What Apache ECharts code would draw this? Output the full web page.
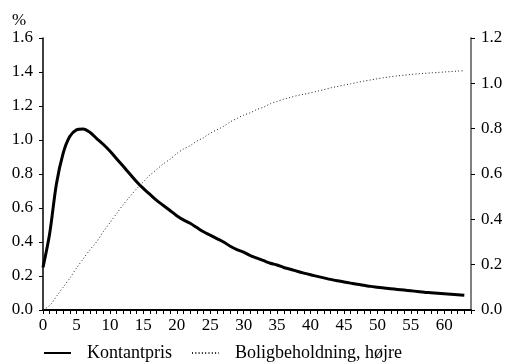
<!DOCTYPE html>
<html>
<head>
<meta charset="utf-8">
<script src="https://cdn.jsdelivr.net/npm/echarts@6/dist/echarts.min.js"></script>
<style>
  html, body { margin: 0; padding: 0; background: #fff; }
  #chart { width: 508px; height: 362px; }
</style>
</head>
<body>
<div id="chart"></div>
<script>
// kvartaler efter stød
var quarters = [];
for (var q = 0; q <= 63; q++) quarters.push(q);

// Kontantpris, venstre akse (%)
var kontantpris = [
  0.25, 0.45, 0.74, 0.92, 1.02, 1.06, 1.065, 1.046, 1.01, 0.975,
  0.935, 0.89, 0.845, 0.80, 0.755, 0.715, 0.68, 0.645, 0.615, 0.585,
  0.555, 0.53, 0.51, 0.485, 0.46, 0.44, 0.42, 0.40, 0.375, 0.355,
  0.34, 0.32, 0.305, 0.29, 0.275, 0.265, 0.25, 0.24, 0.228, 0.217,
  0.207, 0.198, 0.189, 0.18, 0.172, 0.165, 0.158, 0.151, 0.145, 0.139,
  0.134, 0.129, 0.125, 0.121, 0.117, 0.113, 0.109, 0.105, 0.102, 0.099,
  0.096, 0.093, 0.09, 0.087
];

// Boligbeholdning, højre akse (%)
var boligbeholdning = [
  0.0, 0.02, 0.06, 0.10, 0.14, 0.185, 0.225, 0.265, 0.30, 0.345,
  0.385, 0.425, 0.465, 0.50, 0.535, 0.565, 0.595, 0.62, 0.645, 0.665,
  0.69, 0.71, 0.725, 0.745, 0.76, 0.78, 0.795, 0.81, 0.83, 0.845,
  0.86, 0.87, 0.885, 0.895, 0.91, 0.92, 0.93, 0.938, 0.946, 0.952,
  0.958, 0.965, 0.972, 0.98, 0.986, 0.992, 0.998, 1.004, 1.01, 1.015,
  1.02, 1.025, 1.029, 1.033, 1.036, 1.039, 1.042, 1.044, 1.046, 1.048,
  1.05, 1.052, 1.054, 1.056
];

var seriesNames = ['Kontantpris', 'Boligbeholdning, højre'];

var font = 'Liberation Serif';

function pairs(vals) {
  return quarters.map(function (q, i) { return [q, vals[i]]; });
}

var chart = echarts.init(document.getElementById('chart'));

chart.setOption({
  animation: false,
  textStyle: { fontFamily: font, color: '#000' },
  grid: { left: 43, right: 37, top: 38, bottom: 52 },
  graphic: [{
    type: 'text',
    left: 12,
    top: 12,
    style: { text: '%', font: '17px "Liberation Serif"', fill: '#000' }
  }],
  legend: {
    left: 38,
    top: 339,
    itemWidth: 27,
    itemHeight: 14,
    itemGap: 19,
    data: seriesNames,
    itemStyle: { opacity: 0 },
    textStyle: { fontFamily: font, fontSize: 18, color: '#000', padding: [0, 0, 0, 11] }
  },
  xAxis: {
    type: 'value',
    min: 0,
    max: 64,
    interval: 1,
    splitLine: { show: false },
    axisLine: { lineStyle: { color: '#000', width: 2 } },
    axisTick: { length: 4, lineStyle: { color: '#000', width: 1 } },
    axisLabel: {
      margin: 7,
      fontFamily: font,
      fontSize: 17,
      color: '#000',
      formatter: function (v) { return v % 5 === 0 && v <= 60 ? String(v) : ''; }
    }
  },
  yAxis: [{
    type: 'value',
    min: 0,
    max: 1.6,
    interval: 0.2,
    splitLine: { show: false },
    axisLine: { show: true, lineStyle: { color: '#000', width: 1.5 } },
    axisTick: { show: true, length: 4, lineStyle: { color: '#000' } },
    axisLabel: {
      margin: 10,
      fontFamily: font,
      fontSize: 17,
      color: '#000',
      formatter: function (v) { return v.toFixed(1); }
    }
  }, {
    type: 'value',
    position: 'right',
    min: 0,
    max: 1.2,
    interval: 0.2,
    splitLine: { show: false },
    axisLine: { show: true, lineStyle: { color: '#808080', width: 2 } },
    axisTick: { show: true, length: 4, lineStyle: { color: '#000' } },
    axisLabel: {
      margin: 10,
      fontFamily: font,
      fontSize: 17,
      color: '#000',
      formatter: function (v) { return v.toFixed(1); }
    }
  }],
  series: [{
    name: seriesNames[0],
    type: 'line',
    yAxisIndex: 0,
    smooth: 0.3,
    symbol: 'none',
    lineStyle: { color: '#000', width: 3 },
    itemStyle: { color: '#000' },
    data: pairs(kontantpris)
  }, {
    name: seriesNames[1],
    type: 'line',
    yAxisIndex: 1,
    smooth: 0.3,
    symbol: 'none',
    lineStyle: { color: '#222', width: 1, type: [1, 2.3] },
    itemStyle: { color: '#222' },
    data: pairs(boligbeholdning)
  }]
});
</script>
</body>
</html>
